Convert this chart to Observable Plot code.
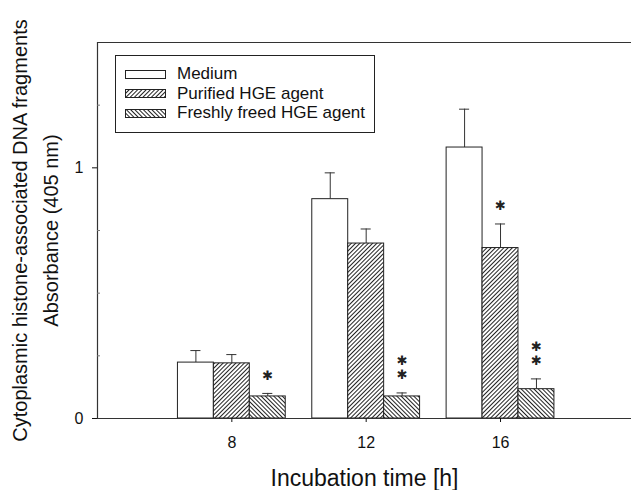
<!DOCTYPE html>
<html>
<head>
<meta charset="utf-8">
<script src="https://cdn.jsdelivr.net/npm/d3@7"></script>
<script src="https://cdn.jsdelivr.net/npm/@observablehq/plot@0.6"></script>
<style>
  html, body { margin: 0; padding: 0; background: #fff; }
  #wrap { position: relative; width: 631px; height: 490px; font-family: "Liberation Sans", Arial, sans-serif; }
  #legend { position: absolute; left: 115px; top: 55px; width: 260px; height: 78px; border: 1px solid #222; background: #fff; box-sizing: border-box; }
  .row { position: absolute; left: 9px; height: 20px; display: flex; align-items: center; font-size: 17px; color: #111; white-space: nowrap; }
  .row svg { margin-right: 11px; }
</style>
</head>
<body>
<div id="wrap"></div>
<script>
// ---- data ----
const times = [8, 12, 16];
const seriesNames = ["Medium", "Purified HGE agent", "Freshly freed HGE agent"];
const medium = [0.223, 0.875, 1.081];
const mediumErr = [0.048, 0.105, 0.153];
const purified = [0.220, 0.698, 0.680];
const purifiedErr = [0.035, 0.058, 0.096];
const freshly = [0.088, 0.088, 0.117];
const freshlyErr = [0.012, 0.014, 0.041];
const purifiedStars = [0, 0, 1];
const freshlyStars = [1, 2, 2];
const yTicks = [0, 1];
const yMinorTicks = [0.25, 0.5, 0.75, 1.25];
const xTicks = [8, 12, 16];
const xLabel = "Incubation time [h]";
const yLabel = "Cytoplasmic histone-associated DNA fragments\nAbsorbance (405 nm)";

const barW = 1.07;
const fills = ["white", "url(#hatchFwd)", "url(#hatchBack)"];
const valueSets = [medium, purified, freshly];
const errSets = [mediumErr, purifiedErr, freshlyErr];
const starSets = [[0, 0, 0], purifiedStars, freshlyStars];

const rows = [];
const starRows = [];
times.forEach((t, i) => {
  seriesNames.forEach((s, j) => {
    const r = {t, s, j, k: j - 1, v: valueSets[j][i], e: errSets[j][i]};
    rows.push(r);
    for (let m = 0; m < starSets[j][i]; m++) starRows.push({...r, m});
  });
});
const cx = d => d.t + d.k * barW;

const marks = [];
seriesNames.forEach((s, j) => {
  const sub = rows.filter(d => d.j === j);
  marks.push(Plot.ruleX(sub, {x: cx, y1: "v", y2: d => d.v + d.e, stroke: "#333", strokeWidth: 1}));
  marks.push(Plot.ruleY(sub, {y: d => d.v + d.e, x1: d => cx(d) - 0.15, x2: d => cx(d) + 0.15, stroke: "#333", strokeWidth: 1}));
  marks.push(Plot.rectY(sub, {x1: d => cx(d) - barW / 2, x2: d => cx(d) + barW / 2, y1: 0, y2: "v", fill: fills[j], stroke: "#222", strokeWidth: 1}));
});
[0, 1].forEach(m => {
  marks.push(Plot.text(starRows.filter(d => d.m === m), {x: cx, y: d => d.v + d.e, text: () => "\u2731", lineAnchor: "middle", dy: -18 - 14 * m, fontSize: 13, fontFamily: "DejaVu Sans", fill: "#222"}));
});

const chart = Plot.plot({
  width: 631,
  height: 490,
  marginLeft: 97,
  marginRight: 0,
  marginTop: 42,
  marginBottom: 72,
  style: {fontFamily: "'Liberation Sans', Arial, sans-serif", background: "white", color: "#111"},
  x: {domain: [4, 19.9], axis: null},
  y: {domain: [0, 1.5], axis: null},
  marks: [
    ...marks,
    Plot.ruleY([0, 1.5], {stroke: "#333", strokeWidth: 1.2}),
    Plot.ruleX([4], {stroke: "#333", strokeWidth: 1.2}),
    Plot.axisY({ticks: yTicks, tickFormat: d => String(d), tickSize: 5, tickPadding: 9, fontSize: 16, label: null}),
    Plot.axisY({ticks: yMinorTicks, tickSize: -3, text: null, label: null, stroke: "#777"}),
    Plot.axisX({ticks: xTicks, tickFormat: d => String(d), tickSize: 4, tickPadding: 14, fontSize: 16, label: null}),
    Plot.text([xLabel], {frameAnchor: "bottom", text: d => d, dy: 60, fontSize: 23, lineAnchor: "middle"}),
    Plot.text([yLabel], {frameAnchor: "left", text: d => d, rotate: -90, dx: -65, fontSize: 20, lineHeight: 1.55, textAnchor: "middle", lineAnchor: "middle"})
  ]
});

// hatch patterns
const defs = d3.select(chart).insert("defs", ":first-child");
function addPattern(sel, id, angle) {
  const p = sel.append("pattern").attr("id", id).attr("patternUnits", "userSpaceOnUse")
    .attr("width", 3).attr("height", 3).attr("patternTransform", `rotate(${angle})`);
  p.append("rect").attr("width", 3).attr("height", 3).attr("fill", "white");
  p.append("line").attr("x1", 0.5).attr("y1", 0).attr("x2", 0.5).attr("y2", 3).attr("stroke", "#222").attr("stroke-width", 1);
}
addPattern(defs, "hatchFwd", 45);
addPattern(defs, "hatchBack", -45);

const wrap = document.getElementById("wrap");
wrap.appendChild(chart);

// legend
const legend = document.createElement("div");
legend.id = "legend";
seriesNames.forEach((name, j) => {
  const row = document.createElement("div");
  row.className = "row";
  row.style.top = (8 + j * 19.5) + "px";
  const svg = d3.create("svg").attr("width", 41).attr("height", 9);
  addPattern(svg.append("defs"), "lg" + j, j === 1 ? 45 : -45);
  svg.append("rect").attr("x", 0.5).attr("y", 0.5).attr("width", 40).attr("height", 8)
    .attr("fill", j === 0 ? "white" : `url(#lg${j})`).attr("stroke", "#222");
  row.appendChild(svg.node());
  const span = document.createElement("span");
  span.textContent = name;
  row.appendChild(span);
  legend.appendChild(row);
});
wrap.appendChild(legend);
</script>
</body>
</html>
